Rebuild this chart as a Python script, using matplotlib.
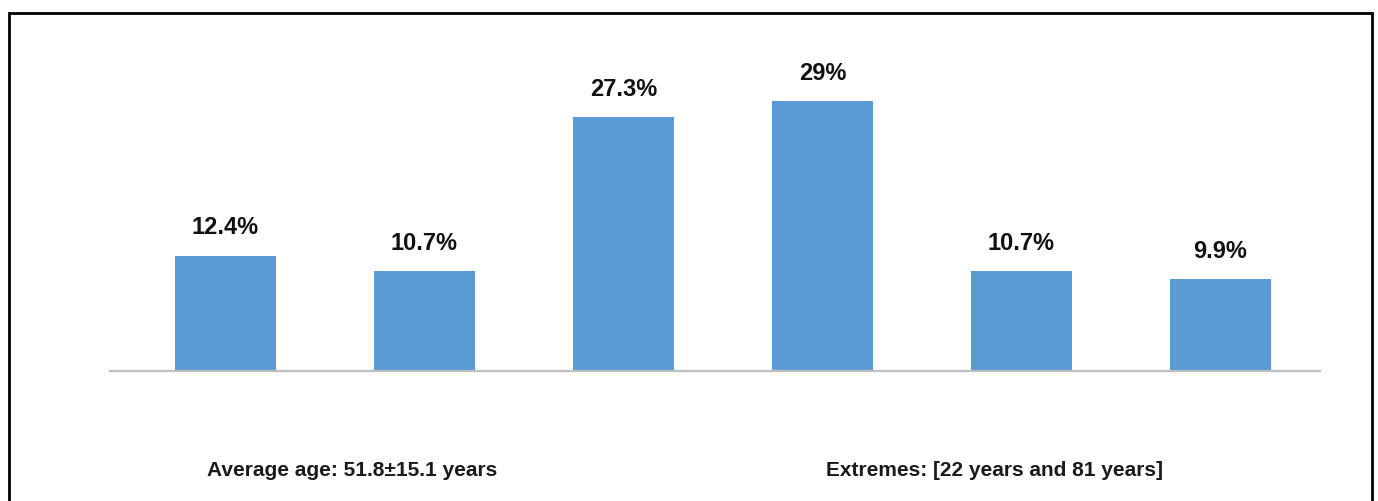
import matplotlib
matplotlib.use("Agg")
import matplotlib.pyplot as plt
from matplotlib.patches import Rectangle

categories = ["G1", "G2", "G3", "G4", "G5", "G6"]
values = [12.4, 10.7, 27.3, 29.0, 10.7, 9.9]
labels = ["12.4%", "10.7%", "27.3%", "29%", "10.7%", "9.9%"]
note_left = "Average age: 51.8\u00b115.1 years"
note_right = "Extremes: [22 years and 81 years]"

plt.rcParams['font.family'] = ['Liberation Sans', 'DejaVu Sans']

W, H = 1378, 501
fig = plt.figure(figsize=(W / 100, H / 100), dpi=100)
fig.patch.set_facecolor('white')

ax = fig.add_axes([110 / W, 1 - 371 / H, (1320 - 110) / W, (371 - 91.7) / H])
x = list(range(len(categories)))
ax.bar(x, values, width=0.51, color='#5B9BD5', zorder=2)
ax.set_xlim(-0.58, 5.5)
ax.set_ylim(0, 30)
for s in ['top', 'right', 'left']:
    ax.spines[s].set_visible(False)
ax.spines['bottom'].set_color('#BFBFBF')
ax.spines['bottom'].set_linewidth(1.6)
ax.set_xticks([])
ax.set_yticks([])
ax.set_facecolor('none')

for xi, v, lab in zip(x, values, labels):
    ax.annotate(lab, xy=(xi, v), xytext=(0, 20), textcoords='offset points',
                ha='center', va='center', fontsize=17, fontweight='bold',
                color='#111111', annotation_clip=False)

fig.text(207 / W, 1 - 470 / H, note_left, ha='left', va='center',
         fontsize=15, fontweight='bold', color='#1a1a1a')
fig.text(826 / W, 1 - 470 / H, note_right, ha='left', va='center',
         fontsize=15, fontweight='bold', color='#1a1a1a')

# outer frame
frame = Rectangle((9 / W, -0.05), (1372 - 9) / W, 1 - 13 / H + 0.05,
                  transform=fig.transFigure, fill=False, edgecolor='black',
                  linewidth=2.0, clip_on=False)
fig.patches.append(frame)

fig.savefig("out.png", dpi=100)
